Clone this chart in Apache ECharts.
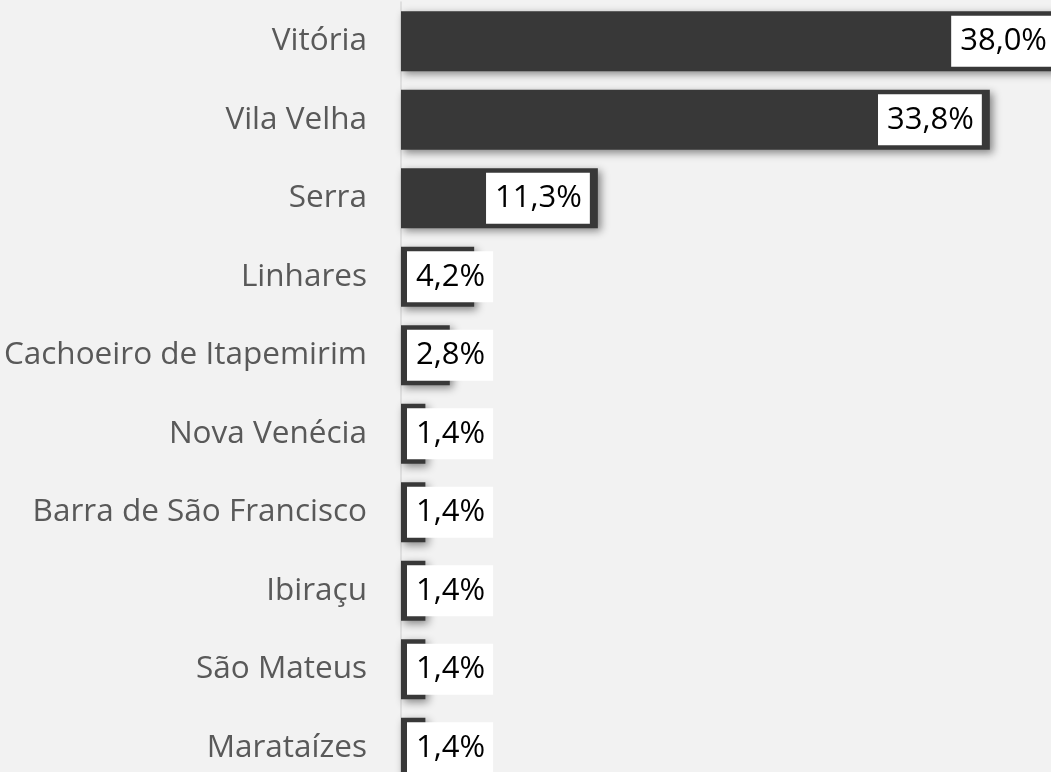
<!DOCTYPE html>
<html>
<head>
<meta charset="utf-8">
<script src="https://cdn.jsdelivr.net/npm/echarts@6/dist/echarts.min.js"></script>
<style>
  html, body { margin: 0; padding: 0; background: #f2f2f2; }
  #chart { width: 1051px; height: 772px; }
</style>
</head>
<body>
<div id="chart"></div>
<script>
// municipios (de cima para baixo)
const cidades = [
    'Vitória', 'Vila Velha', 'Serra', 'Linhares', 'Cachoeiro de Itapemirim',
    'Nova Venécia', 'Barra de São Francisco', 'Ibiraçu', 'São Mateus', 'Marataízes'
];
// percentual
const valores = [38.0, 33.8, 11.3, 4.2, 2.8, 1.4, 1.4, 1.4, 1.4, 1.4];

const fmt = v => v.toFixed(1).replace('.', ',') + '%';

const myChart = echarts.init(document.getElementById('chart'));

const option = {
    backgroundColor: '#f2f2f2',
    animation: false,
    grid: {
        left: 401,
        width: 662,
        top: 2,
        height: 785,
        outerBoundsMode: 'none',
        containLabel: false
    },
    xAxis: {
        type: 'value',
        min: 0,
        max: 38,
        show: false
    },
    yAxis: {
        type: 'category',
        inverse: true,
        data: cidades,
        axisLine: {
            show: true,
            lineStyle: { color: '#d9d9d9', width: 1.5 }
        },
        axisTick: { show: false },
        axisLabel: {
            margin: 34,
            fontSize: 31.5,
            fontFamily: 'Open Sans',
            color: '#595959'
        }
    },
    series: [{
        type: 'bar',
        barWidth: 60,
        itemStyle: {
            color: '#383838',
            shadowColor: 'rgba(0,0,0,0.45)',
            shadowBlur: 8,
            shadowOffsetX: 3,
            shadowOffsetY: 3
        },
        label: {
            show: true,
            formatter: p => fmt(p.value),
            fontSize: 31,
            fontFamily: 'Open Sans',
            color: '#000',
            backgroundColor: '#fff',
            lineHeight: 40,
            padding: [6, 8, 5, 9]
        },
        // barras curtas: rotulo encostado no inicio
        data: valores.map(v => ({
            value: v,
            label: v < 5
                ? { position: 'insideLeft', distance: 6 }
                : { position: 'insideRight', distance: 8 }
        }))
    }]
};
myChart.setOption(option);
</script>
</body>
</html>
